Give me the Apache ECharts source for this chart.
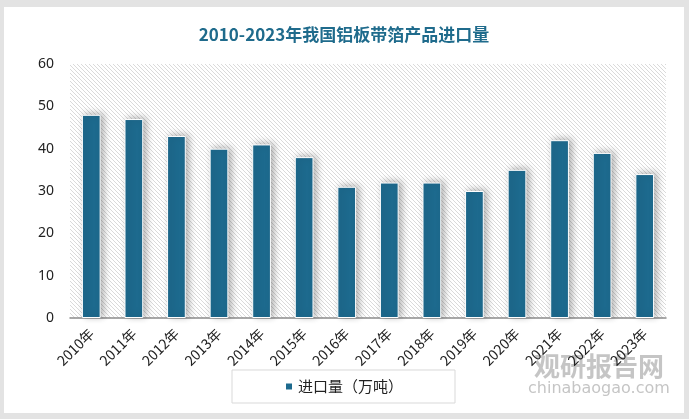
<!DOCTYPE html>
<html>
<head>
<meta charset="utf-8">
<script src="https://cdn.jsdelivr.net/npm/echarts@6/dist/echarts.min.js"></script>
<style>
  html, body { margin: 0; padding: 0; background: #e3e3e3; }
  #chart { position: absolute; left: 4px; top: 7px; width: 680px; height: 406px; background: #fff; }
</style>
</head>
<body>
<div id="chart"></div>
<script>
const years = ["2010年", "2011年", "2012年", "2013年", "2014年", "2015年", "2016年",
  "2017年", "2018年", "2019年", "2020年", "2021年", "2022年", "2023年"];
const imports = [48, 47, 43, 40, 41, 38, 31, 32, 32, 30, 35, 42, 39, 34];
const yTicks = [0, 10, 20, 30, 40, 50, 60];

// hatched background for the plot area
function hatch() {
  const c = document.createElement("canvas");
  c.width = 4;
  c.height = 4;
  const ctx = c.getContext("2d");
  ctx.fillStyle = "#ffffff";
  ctx.fillRect(0, 0, 4, 4);
  ctx.strokeStyle = "#dadada";
  ctx.lineWidth = 1;
  for (let k = -4; k <= 4; k += 4) {
    ctx.beginPath();
    ctx.moveTo(k, 0);
    ctx.lineTo(k + 4, 4);
    ctx.stroke();
  }
  return c;
}

let myChart = echarts.init(document.getElementById("chart"));
const mainColor = "#1d6a8e";
const labelFont = "Noto Sans CJK SC";
let option = {
  animation: false,
  title: {
    text: "2010-2023年我国铝板带箔产品进口量",
    left: "center",
    top: 14,
    textStyle: {
      color: "#1f6b8c",
      fontSize: 17,
      fontWeight: "bold",
      fontFamily: labelFont
    }
  },
  grid: {
    left: 66,
    right: 18,
    top: 57,
    bottom: 95,
    show: true,
    borderWidth: 0,
    backgroundColor: { image: hatch(), repeat: "repeat" }
  },
  legend: {
    bottom: 10,
    left: 228,
    padding: [9, 52, 9, 52],
    borderColor: "#d9d9d9",
    borderWidth: 1,
    itemWidth: 8,
    itemHeight: 8,
    icon: "rect",
    textStyle: { color: "#222", fontSize: 15, fontFamily: labelFont },
    data: ["进口量（万吨）"]
  },
  xAxis: {
    type: "category",
    data: years,
    axisLine: { lineStyle: { color: "#8c8c8c", width: 1.5 } },
    axisTick: { show: false },
    axisLabel: {
      rotate: 45,
      interval: 0,
      color: "#222",
      fontSize: 14,
      margin: 13,
      fontFamily: labelFont
    }
  },
  yAxis: {
    type: "value",
    min: 0,
    max: 60,
    interval: 10,
    axisLine: { show: false },
    axisTick: { show: false },
    splitLine: { show: false },
    axisLabel: {
      color: "#222",
      fontSize: 14,
      margin: 16,
      fontFamily: "Noto Sans",
      formatter: v => (yTicks.indexOf(v) >= 0 ? String(v) : "")
    }
  },
  series: [
    {
      name: "进口量（万吨）",
      type: "bar",
      data: imports,
      barWidth: "44%",
      itemStyle: {
        color: mainColor,
        borderColor: "#ffffff",
        borderWidth: 1,
        shadowColor: "rgba(0,0,0,0.3)",
        shadowBlur: 7,
        shadowOffsetX: 3,
        shadowOffsetY: -1
      }
    }
  ],
  graphic: [
    {
      type: "text",
      left: 530,
      top: 346,
      z: -1,
      style: {
        text: "观研报告网",
        fill: "rgba(140,140,140,0.5)",
        font: "bold 26px 'Noto Sans CJK SC'"
      }
    },
    {
      type: "text",
      left: 524,
      top: 374,
      z: -1,
      style: {
        text: "chinabaogao.com",
        fill: "rgba(140,140,140,0.5)",
        font: "16px 'DejaVu Sans'"
      }
    }
  ]
};
myChart.setOption(option);
</script>
</body>
</html>
